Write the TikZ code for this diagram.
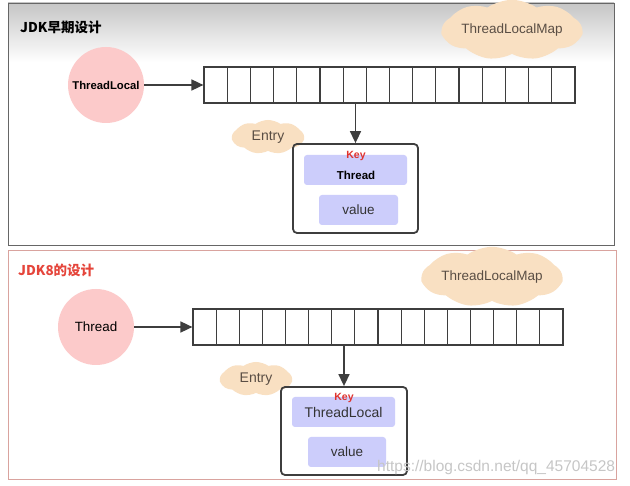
\documentclass[tikz,border=0pt]{standalone}
\usepackage{fontspec}
\setmainfont{Liberation Sans}
\newfontfamily\cjk{Noto Sans CJK SC}
\usetikzlibrary{arrows.meta,shapes.symbols}
\definecolor{circfill}{HTML}{FCCACA}
\definecolor{boxfill}{HTML}{CCCDFB}
\definecolor{cloudfill}{HTML}{F9E0C2}
\definecolor{linegray}{HTML}{3E3E3E}
\definecolor{titlered}{HTML}{E5453B}
\definecolor{keyred}{HTML}{E0332E}
\definecolor{panelred}{HTML}{D9A39E}
\definecolor{cloudtext}{HTML}{5A4E44}
\tikzset{
  panelbox/.style={draw=#1, line width=0.9pt},
  circ/.style={circle, fill=circfill, minimum size=76pt, inner sep=0pt},
  arr/.style={rectangle, draw=linegray, line width=1.2pt, minimum height=36pt, inner sep=0pt},
  conn/.style={draw=linegray, line width=1.6pt, -{Triangle[length=12pt,width=11pt]}},
  cloudy/.style={cloud, cloud puffs=9, cloud puff arc=70, aspect=3, fill=cloudfill,
     inner sep=0pt, text=cloudtext, font=\fontsize{13.5}{15}\selectfont},
  entrybox/.style={rectangle, draw=linegray, line width=1.8pt, rounded corners=4pt, inner sep=0pt},
  lav/.style={rectangle, fill=boxfill, rounded corners=3pt, inner sep=0pt},
  keylbl/.style={text=keyred, font=\bfseries\fontsize{10.5}{12}\selectfont, inner sep=0pt},
  title/.style={font=\cjk\bfseries\fontsize{13.5}{15}\selectfont, inner sep=0pt, anchor=west},
}
\begin{document}
\begin{tikzpicture}[x=1pt,y=-1pt]
\useasboundingbox (0,0) rectangle (630,486);
\fill[white] (0,0) rectangle (630,486);
% ---------- top panel ----------
\shade[top color=gray!45, bottom color=white] (8,3) rectangle (614,62);
\draw[panelbox=gray!80!black] (8,3) rectangle (614,245);
\node[title] (t1) at (20,27) {JDK早期设计};
\node[cloudy, minimum width=134pt, minimum height=42pt] (map1) at (512,30) {ThreadLocalMap};
\node[circ] (tl1) at (106,85) {\bfseries\fontsize{11.3}{13}\selectfont ThreadLocal};
\node[arr, minimum width=371pt] (a1) at (389.5,85) {};
\foreach \i in {1,...,15} \draw[linegray, line width=1.2pt] (204+\i*23.1875,67) -- (204+\i*23.1875,103);
\draw[conn] (tl1.east) -- (a1.west);
\node[cloudy, minimum width=72pt, minimum height=34pt, font=\fontsize{14}{16}\selectfont] (en1) at (268,137) {Entry};
\node[entrybox, minimum width=125pt, minimum height=89pt] (eb1) at (355.5,188.5) {};
\draw[conn] (eb1.north |- a1.south) -- (eb1.north);
\node[lav, minimum width=103pt, minimum height=30pt] (k1) at (355.5,170) {};
\node[keylbl] (kl1) at (356,156) {Key};
\node[font=\bfseries\fontsize{11.5}{13}\selectfont, inner sep=0pt] (kt1) at (356,175) {Thread};
\node[lav, minimum width=79pt, minimum height=30pt] (v1) at (358.5,210) {};
\node[font=\fontsize{13.5}{15}\selectfont, text=black!80, inner sep=0pt] (vt1) at (358.5,210) {value};
% ---------- bottom panel ----------
\draw[panelbox=panelred] (8,250) rectangle (616,479);
\node[title, text=titlered] (t2) at (18,270) {JDK8的设计};
\node[cloudy, minimum width=140pt, minimum height=46pt] (map2) at (492,277) {ThreadLocalMap};
\node[circ] (th2) at (96,327) {\fontsize{13.4}{15}\selectfont Thread};
\node[arr, minimum width=370pt] (a2) at (378,327) {};
\foreach \i in {1,...,15} \draw[linegray, line width=1.2pt] (193+\i*23.125,308.5) -- (193+\i*23.125,345.5);
\draw[conn] (th2.east) -- (a2.west);
\node[cloudy, minimum width=72pt, minimum height=34pt, font=\fontsize{14}{16}\selectfont] (en2) at (256,379) {Entry};
\node[entrybox, minimum width=126pt, minimum height=88pt] (eb2) at (344,431) {};
\draw[conn] (eb2.north |- a2.south) -- (eb2.north);
\node[lav, minimum width=103pt, minimum height=30pt] (k2) at (343.5,412) {};
\node[keylbl] (kl2) at (344,398) {Key};
\node[font=\fontsize{14}{16}\selectfont, text=black!80, inner sep=0pt] (kt2) at (343.5,412) {ThreadLocal};
\node[lav, minimum width=78pt, minimum height=30pt] (v2) at (347,452) {};
\node[font=\fontsize{13.5}{15}\selectfont, text=black!80, inner sep=0pt] (vt2) at (347,452) {value};
% watermark
\node[text=gray!45, font=\fontsize{15.5}{17}\selectfont, inner sep=0pt, anchor=west] (wm) at (377,467) {https://blog.csdn.net/qq\_45704528};
\end{tikzpicture}
\end{document}
